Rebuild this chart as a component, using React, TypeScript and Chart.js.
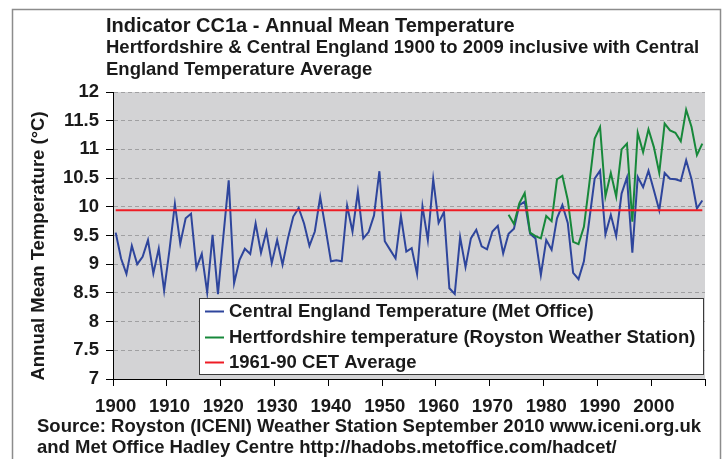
import React, { useEffect, useRef } from 'react';
import { Chart, registerables } from 'chart.js';

Chart.register(...registerables);

// Categories: years 1900..2009
const firstYear = 1900;
const yearCount = 110;
const years: string[] = Array.from({ length: yearCount }, (_, i) => String(firstYear + i));

// Central England Temperature (Met Office), 1900-2009
const cetValues: number[] = [
  9.55, 9.1, 8.83, 9.32, 9.0, 9.13, 9.42, 8.84, 9.27, 8.54,
  9.25, 10.05, 9.36, 9.8, 9.88, 8.93, 9.18, 8.51, 9.51, 8.48,
  9.48, 10.46, 8.67, 9.07, 9.27, 9.18, 9.71, 9.2, 9.57, 9.02,
  9.42, 8.99, 9.45, 9.83, 9.98, 9.71, 9.32, 9.57, 10.17, 9.62,
  9.05, 9.07, 9.05, 10.02, 9.57, 10.26, 9.45, 9.56, 9.85, 10.62,
  9.4, 9.25, 9.1, 9.84, 9.22, 9.28, 8.83, 10.01, 9.42, 10.48,
  9.72, 9.91, 8.58, 8.48, 9.47, 8.95, 9.45, 9.6, 9.31, 9.26,
  9.57, 9.67, 9.19, 9.53, 9.62, 10.03, 10.09, 9.53, 9.45, 8.81,
  9.42, 9.25, 9.8, 10.03, 9.72, 8.85, 8.74, 9.05, 9.77, 10.49,
  10.63, 9.52, 9.86, 9.49, 10.23, 10.51, 9.2, 10.52, 10.34, 10.63,
  10.29, 9.94, 10.59, 10.49, 10.48, 10.45, 10.81, 10.48, 9.97, 10.11,
];

// Hertfordshire temperature (Royston Weather Station), 1973-2009
const hertsStartYear = 1973;
const hertsValues: number[] = [
  9.86, 9.7, 10.06, 10.24, 9.55, 9.49, 9.45, 9.84, 9.75, 10.48,
  10.54, 10.12, 9.39, 9.35, 9.65, 10.4, 11.19, 11.39, 10.18, 10.59,
  10.18, 11.0, 11.1, 9.74, 11.29, 10.95, 11.35, 11.04, 10.59, 11.45,
  11.33, 11.29, 11.14, 11.69, 11.39, 10.9, 11.1,
];

// 1961-90 CET average (as drawn)
const cetAverage = 9.94;

// Y axis range
const yMin = 7;
const yMax = 12;
const yStep = 0.5;

const titleLines = [
  'Indicator CC1a - Annual Mean Temperature',
  'Hertfordshire & Central England 1900 to 2009 inclusive with Central',
  'England Temperature Average',
];
const sourceLines = [
  'Source: Royston (ICENI) Weather Station September 2010 www.iceni.org.uk',
  'and Met Office Hadley Centre http://hadobs.metoffice.com/hadcet/',
];
const yTitle = 'Annual Mean Temperature (°C)';
const seriesNames = [
  'Central England Temperature (Met Office)',
  'Hertfordshire temperature (Royston Weather Station)',
  '1961-90 CET Average',
];

const BLUE = '#2e459c';
const GREEN = '#17883a';
const RED = '#ee1c25';
const FONT = '"Liberation Sans", Arial, Helvetica, sans-serif';

export default function App() {
  const canvasRef = useRef<HTMLCanvasElement | null>(null);

  useEffect(() => {
    const canvas = canvasRef.current;
    if (!canvas) return;

    const hertsData = years.map((y) => {
      const idx = Number(y) - hertsStartYear;
      return idx >= 0 && idx < hertsValues.length ? hertsValues[idx] : null;
    });
    const avgData = years.map(() => cetAverage);

    const decorPlugin = {
      id: 'decor',
      beforeDraw(chart: any) {
        const { ctx, chartArea } = chart;
        ctx.save();
        ctx.fillStyle = '#ffffff';
        ctx.fillRect(0, 0, chart.width, chart.height);
        ctx.fillStyle = '#d3d3d5';
        ctx.fillRect(chartArea.left, chartArea.top, chartArea.right - chartArea.left, chartArea.bottom - chartArea.top);
        ctx.restore();
      },
      afterDraw(chart: any) {
        const { ctx } = chart;
        ctx.save();
        // outer frame
        ctx.strokeStyle = '#8c8c8c';
        ctx.lineWidth = 1.5;
        ctx.strokeRect(12.5, 9.5, 708, 470);

        // titles
        ctx.fillStyle = '#1a1a1a';
        ctx.textAlign = 'left';
        ctx.textBaseline = 'alphabetic';
        ctx.font = `bold 20px ${FONT}`;
        ctx.fillText(titleLines[0], 106, 32);
        ctx.font = `bold 18.5px ${FONT}`;
        ctx.fillText(titleLines[1], 106, 53.3);
        ctx.fillText(titleLines[2], 106, 74.5);

        // source
        ctx.fillText(sourceLines[0], 37, 431.5);
        ctx.fillText(sourceLines[1], 37, 453);

        // y title
        ctx.save();
        ctx.translate(38.5, 246);
        ctx.rotate(-Math.PI / 2);
        ctx.textAlign = 'center';
        ctx.textBaseline = 'middle';
        ctx.font = `bold 18.5px ${FONT}`;
        ctx.fillText(yTitle, 0, 0);
        ctx.restore();

        // legend
        const lx = 199.5, ly = 298.5, lw = 504, lh = 76;
        ctx.fillStyle = '#ffffff';
        ctx.fillRect(lx, ly, lw, lh);
        ctx.strokeStyle = '#3a3a3a';
        ctx.lineWidth = 1;
        ctx.strokeRect(lx, ly, lw, lh);
        const colors = [BLUE, GREEN, RED];
        const rows = [311.5, 337.5, 362.5];
        ctx.font = `bold 18.5px ${FONT}`;
        ctx.textBaseline = 'middle';
        ctx.textAlign = 'left';
        for (let i = 0; i < 3; i++) {
          ctx.strokeStyle = colors[i];
          ctx.lineWidth = 2;
          ctx.beginPath();
          ctx.moveTo(205, rows[i]);
          ctx.lineTo(224, rows[i]);
          ctx.stroke();
          ctx.fillStyle = '#1a1a1a';
          ctx.fillText(seriesNames[i], 229, rows[i] + 0.5);
        }
        ctx.restore();
      },
    };

    const tickFont = { family: FONT, size: 18.5, weight: 'bold' as const };

    const chart = new Chart(canvas, {
      type: 'line',
      data: {
        labels: years,
        datasets: [
          {
            label: seriesNames[0],
            data: cetValues,
            borderColor: BLUE,
            backgroundColor: BLUE,
            borderWidth: 2,
            pointRadius: 0,
            tension: 0,
            order: 2,
          },
          {
            label: seriesNames[1],
            data: hertsData,
            borderColor: GREEN,
            backgroundColor: GREEN,
            borderWidth: 2,
            pointRadius: 0,
            tension: 0,
            spanGaps: false,
            order: 1,
          },
          {
            label: seriesNames[2],
            data: avgData,
            borderColor: RED,
            backgroundColor: RED,
            borderWidth: 2,
            pointRadius: 0,
            tension: 0,
            order: 0,
          },
        ],
      },
      options: {
        responsive: false,
        animation: false,
        devicePixelRatio: 1,
        layout: { padding: { top: 92, right: 22, left: 0, bottom: 0 } },
        plugins: {
          legend: { display: false },
          tooltip: { enabled: false },
          title: { display: false },
        },
        scales: {
          x: {
            type: 'category',
            offset: true,
            afterFit: (scale: any) => {
              scale.height = 80;
            },
            grid: {
              offset: true,
              drawOnChartArea: false,
              drawTicks: true,
              tickLength: 7,
              lineWidth: 1,
              color: '#000',
              tickColor: (ctx: any) =>
                ctx.type !== 'tick' || ctx.index % 10 === 0 ? '#000' : 'rgba(0,0,0,0)',
            },
            border: { display: true, color: '#000', width: 1 },
            ticks: {
              autoSkip: false,
              maxRotation: 0,
              minRotation: 0,
              padding: 9.5,
              color: '#1a1a1a',
              font: tickFont,
              callback: (_v: any, index: number) => (index % 10 === 0 ? years[index] : ''),
            },
          },
          y: {
            type: 'linear',
            min: yMin,
            max: yMax,
            afterFit: (scale: any) => {
              scale.width = 113;
            },
            grid: {
              color: '#a0a0a2',
              lineWidth: 1,
              tickLength: 7,
              tickColor: '#000',
              drawTicks: true,
            },
            border: { display: true, color: '#000', width: 1, dash: [4, 3] },
            ticks: {
              stepSize: yStep,
              padding: 7,
              color: '#1a1a1a',
              font: tickFont,
              callback: (v: any) => String(Number(v)),
            },
          },
        },
      },
      plugins: [decorPlugin],
    });

    return () => {
      chart.destroy();
    };
  }, []);

  return (
    <div style={{ position: 'absolute', left: 0, top: 0, width: 727, height: 459 }}>
      <canvas ref={canvasRef} width={727} height={459} style={{ display: 'block' }} />
    </div>
  );
}
